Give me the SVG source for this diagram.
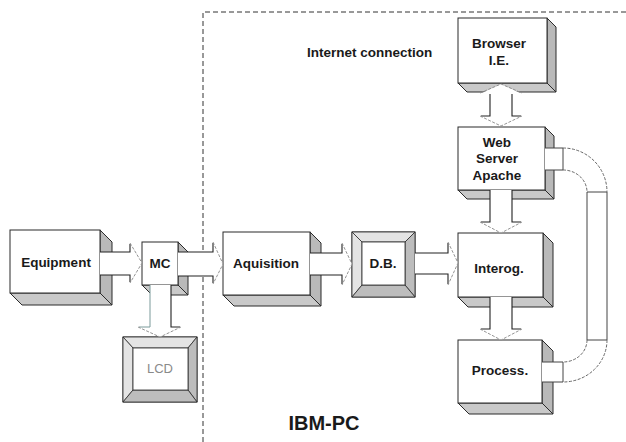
<svg xmlns="http://www.w3.org/2000/svg" width="626" height="442" viewBox="0 0 626 442">
<style>
.front{fill:#fff;stroke:#2a2a2a;stroke-width:1}
.side{fill:#b9b9b9;stroke:#2a2a2a;stroke-width:1}
.bot{fill:#c9c9c9;stroke:#2a2a2a;stroke-width:1}
.bevL{fill:#e4e4e4;stroke:#2a2a2a;stroke-width:0.8}
.bevD{fill:#bdbdbd;stroke:#2a2a2a;stroke-width:0.8}
.lbl{font-family:"Liberation Sans",Arial,sans-serif;font-weight:bold;font-size:13.5px;fill:#1a1a1a;text-anchor:middle}
.fillw{fill:#fff;stroke:none}
.shaft{stroke:#222;stroke-width:1.1;fill:none}
.head{stroke:#888;stroke-width:0.9;fill:none;stroke-dasharray:3 1.5}
.pipe{stroke:#444;stroke-width:1;fill:none}
.pipec{stroke:#666;stroke-width:1;fill:none;stroke-dasharray:3 1.5}
</style>
<rect width="626" height="442" fill="#fff"/>
<g id="pc-boundary">
<path d="M203,442 V12 H626" fill="none" stroke="#333" stroke-width="1" stroke-dasharray="5 3"/>
</g>
<text x="307" y="57" font-family="Liberation Sans,Arial,sans-serif" font-weight="bold" font-size="13.5" fill="#1a1a1a">Internet connection</text>
<text x="324" y="430" font-family="Liberation Sans,Arial,sans-serif" font-weight="bold" font-size="20" fill="#1a1a1a" text-anchor="middle">IBM-PC</text>

<g id="equipment">
<polygon class="side" points="100,230 112,242 112,305 100,293"/>
<polygon class="bot" points="10,293 100,293 112,305 22,305"/>
<rect class="front" x="10" y="230" width="90" height="63"/>
<text class="lbl" x="56" y="267">Equipment</text>
</g>
<g id="mc">
<polygon class="side" points="178,242 188,252 188,295 178,285"/>
<polygon class="bot" points="142,285 178,285 188,295 152,295"/>
<rect class="front" x="142" y="242" width="36" height="43"/>
<text class="lbl" x="160" y="268">MC</text>
</g>
<g id="aquisition">
<polygon class="side" points="310,232 321,243 321,306 310,295"/>
<polygon class="bot" points="223,295 310,295 321,306 234,306"/>
<rect class="front" x="223" y="232" width="87" height="63"/>
<text class="lbl" x="266" y="268">Aquisition</text>
</g>
<g id="db">
<rect x="352" y="232" width="63" height="65" fill="#fff" stroke="#2a2a2a"/>
<polygon class="bevL" points="352,232 415,232 405,242 362,242"/>
<polygon class="bevL" points="352,232 362,242 362,285 352,297"/>
<polygon class="bevD" points="415,232 415,297 405,285 405,242"/>
<polygon class="bevD" points="352,297 362,285 405,285 415,297"/>
<rect x="362" y="242" width="43" height="43" fill="#fff" stroke="#2a2a2a" stroke-width="0.8"/>
<text class="lbl" x="383" y="268">D.B.</text>
</g>
<g id="lcd">
<rect x="123" y="337" width="74" height="65" fill="#fff" stroke="#2a2a2a"/>
<polygon class="bevL" points="123,337 197,337 188,348 133,348"/>
<polygon class="bevL" points="123,337 133,348 133,390 123,402"/>
<polygon class="bevD" points="197,337 197,402 188,390 188,348"/>
<polygon class="bevD" points="123,402 133,390 188,390 197,402"/>
<rect x="133" y="348" width="55" height="42" fill="#fff" stroke="#2a2a2a" stroke-width="0.8"/>
<text x="160" y="373" font-family="Liberation Sans,Arial,sans-serif" font-size="13" fill="#8a8a8a" text-anchor="middle">LCD</text>
</g>
<g id="browser">
<polygon class="side" points="547,18 556,27 556,92 547,83"/>
<polygon class="bot" points="458,83 547,83 556,92 467,92"/>
<rect class="front" x="458" y="18" width="89" height="65"/>
<text class="lbl" x="499" y="48">Browser</text>
<text class="lbl" x="499" y="65">I.E.</text>
</g>
<g id="webserver">
<polygon class="side" points="545,127 554,136 554,199 545,190"/>
<polygon class="bot" points="458,190 545,190 554,199 467,199"/>
<rect class="front" x="458" y="127" width="87" height="63"/>
<text class="lbl" x="497" y="147">Web</text>
<text class="lbl" x="497" y="163">Server</text>
<text class="lbl" x="497" y="180">Apache</text>
</g>
<g id="interog">
<polygon class="side" points="543,233 553,243 553,307 543,297"/>
<polygon class="bot" points="458,297 543,297 553,307 468,307"/>
<rect class="front" x="458" y="233" width="85" height="64"/>
<text class="lbl" x="499" y="273">Interog.</text>
</g>
<g id="process">
<polygon class="side" points="542,340 553,351 553,414 542,403"/>
<polygon class="bot" points="458,403 542,403 553,414 469,414"/>
<rect class="front" x="458" y="340" width="84" height="63"/>
<text class="lbl" x="500" y="375">Process.</text>
</g>

<g id="connectors">
<polygon class="fillw" points="100,252 130,252 130,243 142,263 130,283 130,275 100,275"/>
<path class="shaft" d="M100,252 H130 V244 M100,275 H130 V282"/>
<path class="head" d="M130,243 L142,263 L130,283"/>
<polygon class="fillw" points="178,252 213,252 213,242 223,264 213,284 213,276 178,276"/>
<path class="shaft" d="M178,252 H213 V243 M178,276 H213 V283"/>
<path class="head" d="M213,242 L223,264 L213,284"/>
<polygon class="fillw" points="310,253 342,253 342,243 352,264 342,285 342,275 310,275"/>
<path class="shaft" d="M310,253 H342 V244 M310,275 H342 V284"/>
<path class="head" d="M342,243 L352,264 L342,285"/>
<polygon class="fillw" points="415,253 448,253 448,242 458,263 448,285 448,274 415,274"/>
<path class="shaft" d="M415,253 H448 V243 M415,274 H448 V284"/>
<path class="head" d="M448,242 L458,263 L448,285"/>
<polygon class="fillw" points="150,285 150,327 138,327 160,337 181,327 171,327 171,285"/>
<path d="M150,285 V327 H139" stroke="#7a9a9a" stroke-width="1" fill="none"/>
<path class="shaft" d="M171,285 V327 H180"/>
<path class="head" d="M138,327 L160,337 L181,327"/>
<polygon class="fillw" points="501,84 522,94 512,94 512,116 522,116 501,126 480,116 490,116 490,94 480,94"/>
<path class="shaft" d="M490,94 V116 H481 M512,94 V116 H521"/>
<path class="head" d="M480,93 L501,84 L522,93 M480,116 L501,126 L522,116"/>
<polygon class="fillw" points="490,190 490,222 480,222 501,233 522,222 512,222 512,190"/>
<path class="shaft" d="M490,190 V222 H481 M512,190 V222 H521"/>
<path class="head" d="M480,222 L501,233 L522,222"/>
<polygon class="fillw" points="490,297 490,329 480,329 501,340 522,329 512,329 512,297"/>
<path class="shaft" d="M490,297 V329 H481 M512,297 V329 H521"/>
<path class="head" d="M480,329 L501,340 L522,329"/>
<path class="fillw" d="M545,148 H563 A44,44 0 0 1 607,192 V340 A44,42 0 0 1 563,382 H542 V362 H563 A24,22 0 0 0 587,340 V192 A24,22 0 0 0 563,170 H545 Z"/>
<path class="pipe" d="M545,148 H563 M545,170 H563 M563,148 V170 M587,192 H607 M587,192 V340 M607,192 V340 M587,340 H607 M542,362 H563 M542,382 H563 M563,362 V382"/>
<path class="pipec" d="M563,148 A44,44 0 0 1 607,192 M563,170 A24,22 0 0 1 587,192 M607,340 A44,42 0 0 1 563,382 M587,340 A24,22 0 0 1 563,362"/>
</g>
</svg>
